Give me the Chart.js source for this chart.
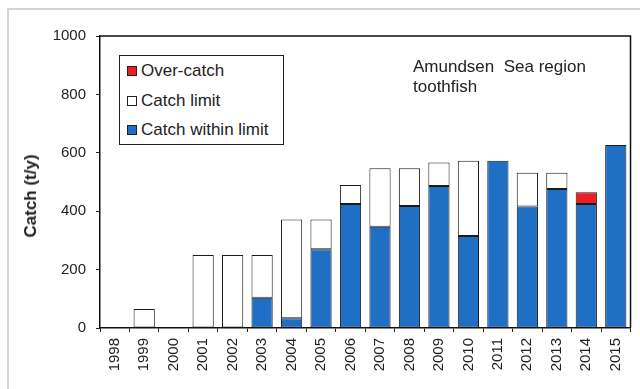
<!DOCTYPE html>
<html lang="en">
<head>
    <meta charset="UTF-8">
    <title>Amundsen Sea region toothfish</title>
    <script src="https://cdn.jsdelivr.net/npm/chart.js"></script>
    <style>
        body {
            margin: 0;
            width: 640px;
            height: 389px;
            overflow: hidden;
            background: #fff;
            font-family: 'Liberation Sans', Arial, sans-serif;
            color: #222;
        }
        .wrap {
            position: relative;
            width: 640px;
            height: 389px;
        }
        .frame {
            position: absolute;
            left: 7px;
            top: 8px;
            width: 700px;
            height: 500px;
            border: 2px solid #d4d4d4;
        }
        canvas { position: absolute; left: 0; top: 0; }
        .legend {
            position: absolute;
            left: 119px;
            top: 55px;
            width: 163px;
            height: 88px;
            border: 1.5px solid #222;
            background: #fff;
            font-size: 17px;
        }
        .legend div {
            height: 29.5px;
            line-height: 29.5px;
            padding-left: 21px;
            position: relative;
            white-space: nowrap;
        }
        .legend span {
            position: absolute;
            left: 7px;
            top: 10px;
            width: 8px;
            height: 8px;
            border: 1px solid #222;
        }
        .note {
            position: absolute;
            left: 413px;
            top: 57px;
            font-size: 17px;
            line-height: 20px;
            white-space: pre;
        }
        .ytitle {
            position: absolute;
            left: 31px;
            top: 196px;
            transform: translate(-50%, -50%) rotate(-90deg);
            font-size: 17px;
            font-weight: bold;
            white-space: nowrap;
        }
    </style>
</head>
<body>
<div class="wrap">
    <div class="frame"></div>
    <canvas id="catchChart" width="640" height="389"></canvas>
    <div class="ytitle">Catch (t/y)</div>
    <div class="legend">
        <div><span style="background:#ee1c24"></span>Over-catch</div>
        <div><span style="background:#fff"></span>Catch limit</div>
        <div><span style="background:#1f6fc5"></span>Catch within limit</div>
    </div>
    <div class="note">Amundsen  Sea region
toothfish</div>
</div>

<script>
    const years = ['1998', '1999', '2000', '2001', '2002', '2003', '2004', '2005', '2006',
                   '2007', '2008', '2009', '2010', '2011', '2012', '2013', '2014', '2015'];
    const catchLimit = [0, 65, 0, 250, 250, 250, 372, 372, 490, 547, 547, 567, 573, 573, 532, 532, 425, 627];
    const catchTaken = [0, 0, 0, 0, 0, 104, 33, 270, 425, 347, 418, 486, 315, 573, 416, 476, 465, 627];
    const yTicks = [0, 200, 400, 600, 800, 1000];

    // split each year into the three stacked parts
    const withinLimit = years.map((y, i) => Math.min(catchTaken[i], catchLimit[i]) || null);
    const unusedLimit = years.map((y, i) => (catchLimit[i] - Math.min(catchTaken[i], catchLimit[i])) || null);
    const overCatch = years.map((y, i) => Math.max(catchTaken[i] - catchLimit[i], 0) || null);

    const boxPlugin = {
        id: 'box',
        afterDraw(chart) {
            const a = chart.chartArea;
            const ctx = chart.ctx;
            ctx.save();
            ctx.strokeStyle = '#111';
            ctx.lineWidth = 1.5;
            ctx.beginPath();
            ctx.moveTo(a.left, a.top);
            ctx.lineTo(a.right, a.top);
            ctx.lineTo(a.right, a.bottom);
            ctx.stroke();
            ctx.restore();
        }
    };

    const barStyle = { borderColor: '#1a1a1a', borderWidth: 1, borderSkipped: false, barPercentage: 0.72, categoryPercentage: 1 };

    new Chart(document.getElementById('catchChart'), {
        type: 'bar',
        data: {
            labels: years,
            datasets: [
                Object.assign({ label: 'Catch within limit', data: withinLimit, backgroundColor: '#1f6fc5' }, barStyle),
                Object.assign({ label: 'Catch limit', data: unusedLimit, backgroundColor: '#ffffff' }, barStyle),
                Object.assign({ label: 'Over-catch', data: overCatch, backgroundColor: '#ee1c24' }, barStyle)
            ]
        },
        options: {
            responsive: false,
            animation: false,
            layout: { padding: { left: 0, top: 36, right: 8, bottom: 0 } },
            plugins: {
                legend: { display: false },
                tooltip: { enabled: false }
            },
            scales: {
                x: {
                    stacked: true,
                    afterFit: s => { s.height = 61; },
                    grid: { offset: true, drawOnChartArea: false, tickLength: 4, color: '#222' },
                    border: { color: '#111', width: 1.5 },
                    ticks: {
                        minRotation: 90,
                        maxRotation: 90,
                        padding: 6,
                        color: '#222',
                        font: { family: 'Liberation Sans', size: 15 }
                    }
                },
                y: {
                    stacked: true,
                    min: 0,
                    max: 1000,
                    afterFit: s => { s.width = 100; },
                    afterBuildTicks: s => { s.ticks = yTicks.map(v => ({ value: v })); },
                    grid: { drawOnChartArea: false, tickLength: 4, color: '#222' },
                    border: { color: '#111', width: 1.5 },
                    ticks: {
                        padding: 10,
                        color: '#222',
                        font: { family: 'Liberation Sans', size: 15 },
                        callback: v => String(v)
                    }
                }
            }
        },
        plugins: [boxPlugin]
    });
</script>
</body>
</html>
